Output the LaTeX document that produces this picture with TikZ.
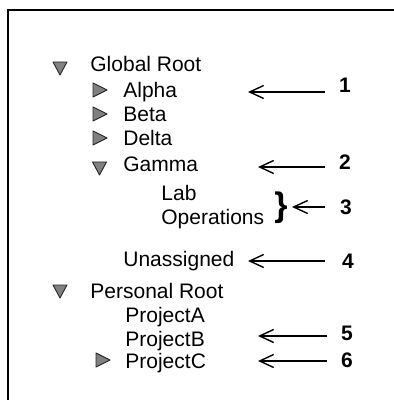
\documentclass[tikz,border=0pt]{standalone}
\usepackage{fontspec}
\setmainfont{Liberation Sans}
\usetikzlibrary{arrows.meta}

\newcommand{\opentri}[1]{\draw[tri] (#1) ++(-7,-6.5) -- ++(14,0) -- ++(-7,13) -- cycle;}
\newcommand{\shuttri}[1]{\draw[tri] (#1) ++(-7,-7) -- ++(0,14) -- ++(14,-7) -- cycle;}

\begin{document}
\begin{tikzpicture}[x=0.5pt,y=-0.5pt,
   every node/.style={inner sep=0pt,font=\fontsize{10.5}{12}\selectfont},
   item/.style={anchor=base west},
   num/.style={anchor=base,font=\fontsize{10.5}{12}\selectfont\bfseries},
   pointer/.style={line width=1pt,-{Straight Barb[length=7pt,width=6.5pt,line width=0.7pt]}},
   tri/.style={fill=black!50,draw=black!85,line width=0.45pt,line join=round}]
  \useasboundingbox (0,0) rectangle (393,400);
  \draw[line width=1pt] (8,401) -- (8,10) -- (394,10);

   \draw (90,72) node[item] (global) {Global Root};
    \draw (123,98) node[item] (alpha) {Alpha};
    \draw (123,122) node[item] (beta) {Beta};
    \draw (123,146) node[item] (delta) {Delta};
    \draw (123,172) node[item] (gamma) {Gamma};
	     \draw (161,200) node[item] (lab) {Lab};
	     \draw (161,225) node[item] (ops) {Operations};
    \draw (123,266) node[item] (unassigned) {Unassigned};
   \draw (90,298) node[item] (personal) {Personal Root};
	     \draw (125,322) node[item] (proja) {ProjectA};
	     \draw (125,346) node[item] (projb) {ProjectB};
	     \draw (125,368) node[item] (projc) {ProjectC};

  \opentri{60,68.5}
  \shuttri{100,90}
  \shuttri{100,114}
  \shuttri{100,138}
  \opentri{99.5,168.5}
  \opentri{60,291.5}
  \shuttri{103,360}

   \draw (281,208) node[font=\fontsize{17}{20}\selectfont\bfseries] (brace) {\}};

    \draw (345,93) node[num] (n1) {1};
    \draw (345,170) node[num] (n2) {2};
    \draw (346,214) node[num] (n3) {3};
    \draw (348,268) node[num] (n4) {4};
    \draw (347,340) node[num] (n5) {5};
    \draw (347,367) node[num] (n6) {6};

  \coordinate (t1) at (325,92);  \coordinate (h1) at (248,92);
  \coordinate (t2) at (325,167); \coordinate (h2) at (258,167);
  \coordinate (t3) at (325,207); \coordinate (h3) at (292,207);
  \coordinate (t4) at (325,261); \coordinate (h4) at (248,261);
  \coordinate (t5) at (327,336); \coordinate (h5) at (258,336);
  \coordinate (t6) at (327,361); \coordinate (h6) at (258,361);

     \path[pointer] (t1) edge (h1);
     \path[pointer] (t2) edge (h2);
     \path[pointer] (t3) edge (h3);
     \path[pointer] (t4) edge (h4);
     \path[pointer] (t5) edge (h5);
     \path[pointer] (t6) edge (h6);
\end{tikzpicture}
\end{document}
